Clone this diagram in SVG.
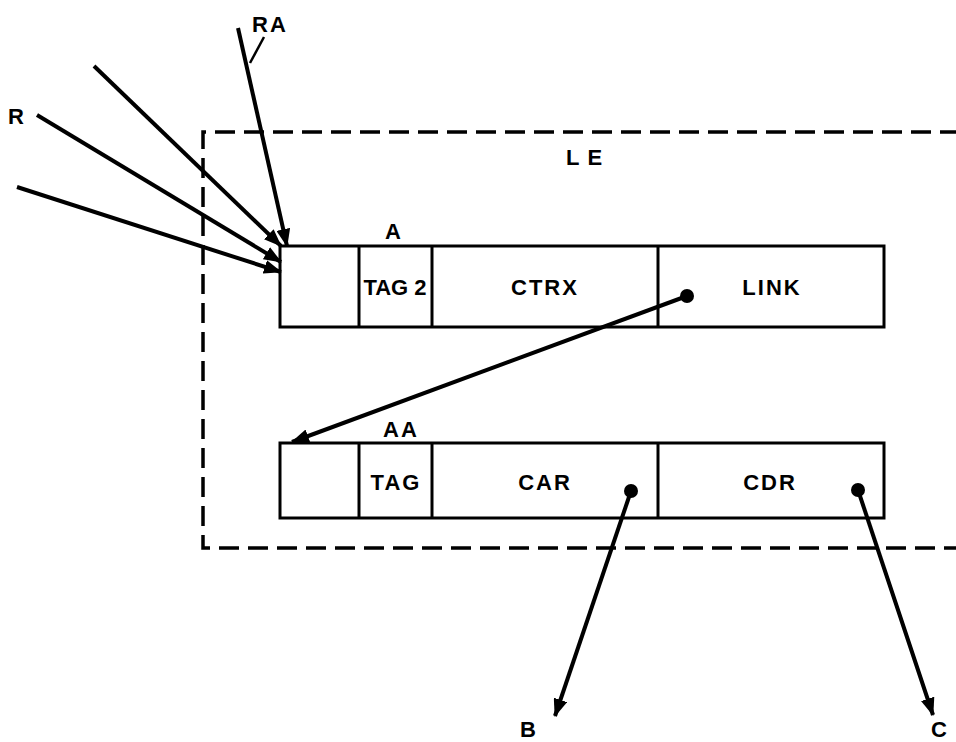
<svg xmlns="http://www.w3.org/2000/svg" width="956" height="742" viewBox="0 0 956 742">
<defs>
<style>
.box{fill:#fff;stroke:#000;stroke-width:3}
.div{stroke:#000;stroke-width:3}
.lbl{font-family:"Liberation Sans",Arial,sans-serif;font-weight:bold;font-size:22px;fill:#000;text-anchor:middle;letter-spacing:2px}
.con{stroke:#000;stroke-width:4;fill:none;marker-end:url(#ah)}
.dash{fill:none;stroke:#000;stroke-width:3.5;stroke-dasharray:20 9}
</style>
<marker id="ah" viewBox="0 0 18 14" refX="17" refY="7" markerWidth="18" markerHeight="14" markerUnits="userSpaceOnUse" orient="auto">
<path d="M0,0 L18,7 L0,14 Z" fill="#000"/>
</marker>
</defs>
<rect width="956" height="742" fill="#fff"/>
<g id="LE">
<path class="dash" d="M960,132 H203 V548 H960"/>
<text class="lbl" x="588" y="165" style="letter-spacing:8px">LE</text>
</g>
<g id="A">
<rect class="box" x="280" y="246" width="604" height="81"/>
<line class="div" x1="359" y1="246" x2="359" y2="327"/>
<line class="div" x1="432" y1="246" x2="432" y2="327"/>
<line class="div" x1="658" y1="246" x2="658" y2="327"/>
<text class="lbl" x="394" y="239">A</text>
<text class="lbl" x="395" y="295" style="letter-spacing:0">TAG 2</text>
<text class="lbl" x="545" y="295">CTRX</text>
<text class="lbl" x="772" y="295">LINK</text>
</g>
<g id="AA">
<rect class="box" x="280" y="443" width="604" height="75"/>
<line class="div" x1="359" y1="443" x2="359" y2="518"/>
<line class="div" x1="432" y1="443" x2="432" y2="518"/>
<line class="div" x1="658" y1="443" x2="658" y2="518"/>
<text class="lbl" x="401" y="437">AA</text>
<text class="lbl" x="396" y="490">TAG</text>
<text class="lbl" x="545" y="490">CAR</text>
<text class="lbl" x="770" y="490">CDR</text>
</g>
<g id="labels">
<text class="lbl" x="17" y="124">R</text>
<text class="lbl" x="270" y="32">RA</text>
<text class="lbl" x="529" y="737">B</text>
<text class="lbl" x="940" y="737">C</text>
</g>
<g id="connectors">
<line class="con" x1="94" y1="66" x2="281" y2="246"/>
<line class="con" x1="37" y1="115" x2="281" y2="262"/>
<line class="con" x1="17" y1="187" x2="281" y2="272"/>
<line class="con" x1="238" y1="28" x2="287" y2="246"/>
<line stroke="#000" stroke-width="2.5" x1="264" y1="37" x2="250" y2="63"/>
<line class="con" x1="687" y1="296" x2="292" y2="442"/>
<circle cx="687" cy="296" r="7" fill="#000"/>
<line class="con" x1="631" y1="491" x2="555" y2="716"/>
<circle cx="631" cy="491" r="7" fill="#000"/>
<line class="con" x1="858" y1="490" x2="933" y2="715"/>
<circle cx="858" cy="490" r="7" fill="#000"/>
</g>
</svg>
